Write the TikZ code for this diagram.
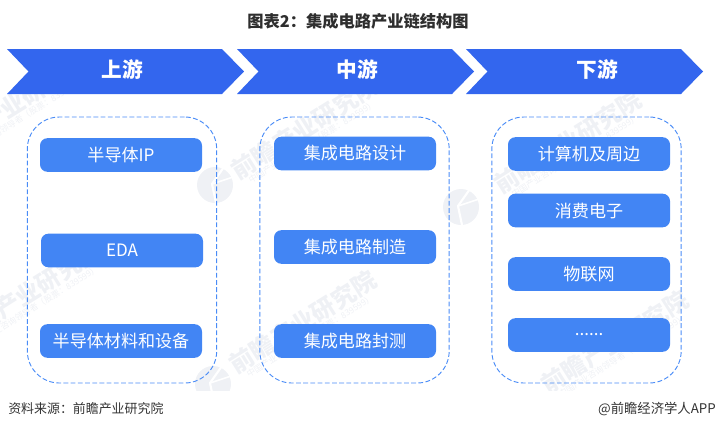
\documentclass[tikz,border=0pt]{standalone}
\usepackage{fontspec}
\setmainfont{Noto Sans CJK SC}
\definecolor{chevblue}{HTML}{3366EE}
\definecolor{boxblue}{HTML}{4285F4}
\definecolor{dashblue}{HTML}{4A8CF7}
\definecolor{markgray}{HTML}{EFF1F5}
\tikzset{
  itembox/.style={draw=none,fill=boxblue,rounded corners=5.5pt,minimum width=121.5pt,minimum height=25.2pt,
    inner sep=0pt,text=white,font=\fontsize{12.8pt}{14pt}\selectfont},
  headtext/.style={text=white,font=\fontsize{15.5pt}{18pt}\selectfont\bfseries},
  groupbox/.style={draw=dashblue,dash pattern=on 3.6pt off 1.8pt,line width=0.7pt,rounded corners=24pt,
    minimum width=142pt,minimum height=199.5pt,inner sep=0pt},
  markname/.style={text=markgray,rotate=32,inner sep=0pt,font=\fontsize{18pt}{20pt}\selectfont\bfseries},
  marksub/.style={text=markgray,rotate=32,inner sep=0pt,font=\fontsize{6.4pt}{7pt}\selectfont},
  marklogo/.style={circle,fill=markgray,minimum size=27pt,inner sep=0pt},
}
\begin{document}
\begin{tikzpicture}[x=0.75pt,y=-0.75pt]
  \useasboundingbox (0,0) rectangle (716,430);

  % watermark
  \begin{scope}
    \clip (0,0) rectangle (716,390);
    \foreach \px/\py/\idx in {13/105/a,305/128/b,568/142/c,28/293/d,303/322/e,615/342/f} {
      \node[markname] (mark\idx) at (\px,\py) {前瞻产业研究院};
      \node[marksub] (sub\idx) at (\px+7,\py+14) {中国产业咨询领导者（股票：839599）};
    }
    \foreach \px/\py/\idx in {215/185/a,461/207/b,213/384/c} {
      \node[marklogo] (logo\idx) at (\px,\py) {};
      \draw[white,line width=1.6pt] (\px+9,\py-18) -- (\px-3,\py-1) -- (\px+1,\py+18);
      \draw[white,line width=1.2pt] (\px-3,\py-1) -- (\px+18,\py-8);
    }
  \end{scope}

  \node[inner sep=0pt,text=black!82,font=\fontsize{12.2pt}{14pt}\selectfont\bfseries] (title) at (358,21) {图表2：集成电路产业链结构图};

  % chevrons
  \foreach \sx/\idx in {7/up,237/mid,466/down} {
    \fill[chevblue] (\sx,49) -- (\sx+215,49) -- (\sx+237,71.5) -- (\sx+215,94) -- (\sx,94) -- (\sx+21.5,71.5) -- cycle;
  }
  \node[headtext] (up)   at (122.5,69.5) {上游};
  \node[headtext] (mid)  at (357,69.5) {中游};
  \node[headtext] (down) at (597,69.5) {下游};

  % dashed groups
  \node[groupbox] (upgroup)   at (122,250) {};
  \node[groupbox] (midgroup)  at (354.5,250) {};
  \node[groupbox] (downgroup) at (586.5,250) {};

  \node[itembox] (ip)    at (121,155)   {半导体IP};
  \node[itembox] (eda)   at (122,250.5) {EDA};
  \node[itembox] (mat)   at (121,341)   {半导体材料和设备};

  \node[itembox] (des)   at (355,153.5) {集成电路设计};
  \node[itembox] (fab)   at (355,247)   {集成电路制造};
  \node[itembox] (pack)  at (355,341)   {集成电路封测};

  \node[itembox] (comp)  at (589,154)   {计算机及周边};
  \node[itembox] (cons)  at (589,210.5) {消费电子};
  \node[itembox] (iot)   at (589,274)   {物联网};
  \node[itembox] (more)  at (589,335)   {\raisebox{1.5pt}{......}};

  \node[inner sep=0pt,anchor=west,text=black!80,font=\fontsize{9.7pt}{11pt}\selectfont] (source) at (8,409) {资料来源：前瞻产业研究院};
  \node[inner sep=0pt,anchor=east,text=black!80,font=\fontsize{10pt}{11pt}\selectfont] (brand) at (716,409) {@前瞻经济学人APP};
\end{tikzpicture}
\end{document}
